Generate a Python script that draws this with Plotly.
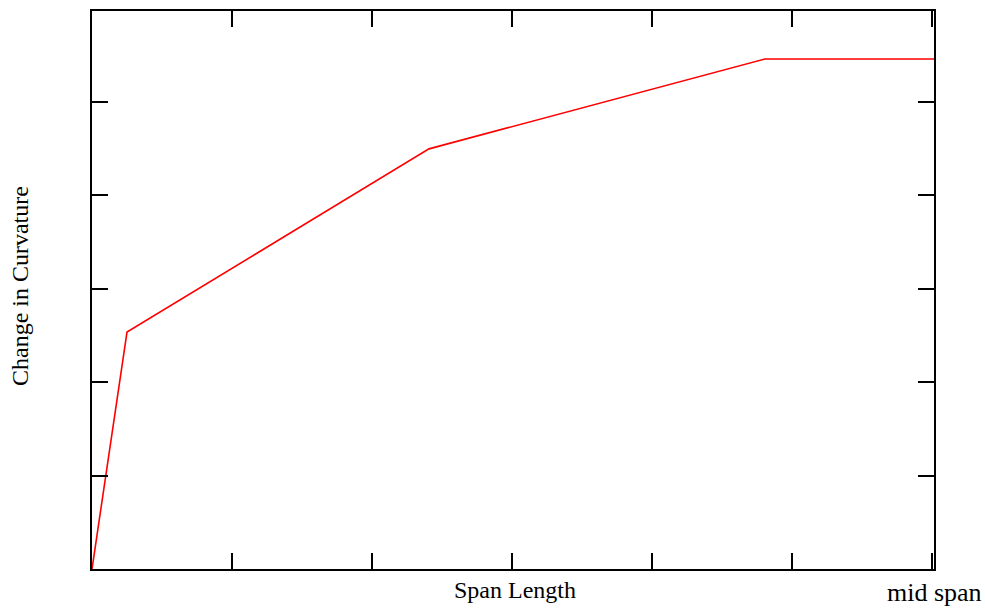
import plotly.graph_objects as go

# Data in axis-tick units (no numeric labels shown in the original)
span_pos = [0.0, 0.25, 2.407, 4.807, 6.014]
curv_change = [0.0, 2.535, 4.495, 5.457, 5.457]
x_ticks = [0, 1, 2, 3, 4, 5, 6]
y_ticks = [0, 1, 2, 3, 4, 5]

W, H = 985, 609
L, R, T, B = 92, 51, 9, 40
pw, ph = W - L - R, H - T - B

def px_x(x):
    return (x - L) / pw

def px_y(y):
    return (H - B - y) / ph

family = "Liberation Serif, Times New Roman, serif"
font = dict(family=family, size=24, color="black")
font_mid = dict(family=family, size=26, color="black")

fig = go.Figure()
fig.add_trace(go.Scatter(x=span_pos, y=curv_change, mode="lines",
                         line=dict(color="#ff0000", width=1.6), showlegend=False,
                         cliponaxis=False))

axis_common = dict(showgrid=False, zeroline=False, showline=True, linecolor="black",
                   linewidth=2, mirror="ticks", ticks="inside", ticklen=16,
                   tickwidth=1.5, tickcolor="black", showticklabels=False)

fig.update_xaxes(range=[0, 6.014], tickvals=x_ticks, **axis_common)
fig.update_yaxes(range=[0, 5.97], tickvals=y_ticks, **axis_common)

fig.add_annotation(text="Span Length", xref="paper", yref="paper",
                   x=px_x(515), y=px_y(590), showarrow=False, font=font,
                   xanchor="center", yanchor="middle")
fig.add_annotation(text="mid span", xref="paper", yref="paper",
                   x=px_x(935), y=px_y(608.5), showarrow=False, font=font_mid,
                   xanchor="center", yanchor="bottom", borderpad=0)
fig.add_annotation(text="Change in Curvature", xref="paper", yref="paper",
                   x=px_x(20), y=px_y(285), showarrow=False, font=font,
                   textangle=-90, xanchor="center", yanchor="middle")

fig.update_layout(width=W, height=H, margin=dict(l=L, r=R, t=T, b=B),
                  paper_bgcolor="white", plot_bgcolor="white", font=font)

fig.write_html("out.html")
